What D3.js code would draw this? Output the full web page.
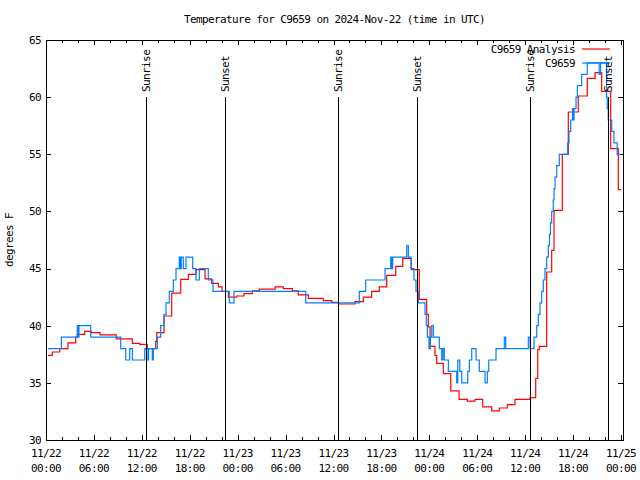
<!DOCTYPE html>
<html><head><meta charset="utf-8">
<script src="https://cdn.jsdelivr.net/npm/d3@7"></script>
<style>
body{margin:0;background:#fff}
svg{display:block}
text{font-family:"DejaVu Sans Mono",monospace;font-size:11px;letter-spacing:-0.6px;fill:#000}
</style>
</head><body>
<svg id="chart" width="640" height="480"></svg>
<script>
// ---- data (hours after 2024-11-22 00:00 UTC) ----
const baseTime = Date.UTC(2024, 10, 22, 0, 0);
const analysisHours = [0.25,0.79,1.72,2.75,3.72,3.92,4.85,5.67,6.76,8.80,10.81,11.73,12.68,13.74,13.86,14.78,15.74,16.87,17.82,18.78,19.91,20.75,21.58,22.04,22.83,23.88,24.79,25.83,26.71,28.68,29.71,30.84,31.59,32.85,34.72,35.78,36.60,38.69,39.73,40.78,41.74,42.66,43.79,44.67,45.74,46.74,47.67,47.87,48.09,48.71,48.92,49.75,50.68,51.72,52.76,53.72,54.68,55.81,56.76,57.77,58.73,60.61,61.32,61.57,61.77,62.70,63.32,63.61,64.65,65.40,66.65,67.78,68.75,69.58,70.71,71.66,72.0];
const analysisTemps = [37.4,37.7,38.0,38.5,39.0,39.25,39.5,39.4,39.2,38.85,38.45,38.37,38.0,38.6,39.4,40.85,42.85,44.05,44.5,44.9,44.1,43.7,43.4,43.0,42.5,42.6,42.8,43.05,43.2,43.4,43.25,43.05,42.7,42.4,42.2,42.05,41.9,42.1,42.5,43.0,43.4,44.4,45.2,45.9,44.9,42.3,41.0,39.9,38.2,37.4,36.7,35.8,34.3,33.55,33.4,33.55,32.9,32.55,32.8,33.1,33.55,33.7,35.4,37.9,38.2,44.7,46.6,50.1,55.0,58.7,60.1,61.65,62.15,60.5,55.5,51.9,51.9];
const stationHours = [0.25,1.92,3.92,4.07,4.13,5.60,9.35,9.98,10.48,10.81,12.36,12.65,12.84,13.31,13.44,13.94,14.36,14.78,15.03,15.44,15.94,16.28,16.69,16.82,16.94,17.19,17.53,18.37,18.78,19.20,20.32,20.91,22.95,23.54,32.52,39.23,40.03,42.45,43.16,43.29,43.41,45.17,45.37,45.71,46.08,46.33,46.62,47.46,47.62,47.75,47.96,48.12,48.30,48.50,49.25,49.55,49.71,49.88,50.38,51.43,51.56,51.81,52.06,52.81,53.01,53.31,53.85,54.26,54.98,55.26,55.44,56.35,57.39,57.56,60.39,60.61,61.11,61.44,61.64,61.86,62.07,62.27,62.48,62.70,62.90,63.05,63.17,63.32,63.52,63.61,63.74,63.95,64.27,65.33,65.49,65.70,65.93,66.05,66.12,66.37,66.53,67.08,67.78,69.27,69.45,70.20,70.28,70.40,70.83,71.11,71.52,72.0];
const stationTemps = [38,39,40,39,40,39,38,37,38,37,38,37,38,37,38,39,40,41,42,43,44,45,46,45,46,45,46,45,44,45,44,43,42,43,42,43,44,45,46,45,46,47,46,45,44,43,42,41,40,39,38,39,40,39,38,37,38,37,36,35,37,36,35,36,37,38,37,36,35,36,37,38,39,38,39,38,39,40,41,42,43,44,45,46,47,48,49,50,51,52,53,54,55,56,57,58,59,58,59,60,61,62,63,62,63,60,59,58,57,56,55,55];
const eventHours = [12.57, 22.45, 36.60, 46.49, 60.67, 70.41];
const eventLabels = ["Sunrise","Sunset","Sunrise","Sunset","Sunrise","Sunset"];
const yTickValues = [30,35,40,45,50,55,60,65];
const xMajorHours = [0,6,12,18,24,30,36,42,48,54,60,66,72];
const seriesNames = ["C9659 Analysis","C9659"];
const seriesColors = ["#ff0000","#0080ff"];

// ---- layout ----
const L = 46, R = 623, T = 40, B = 440;
const toDate = h => new Date(baseTime + h * 3600e3);
const svg = d3.select("#chart");
const x = d3.scaleUtc().domain([toDate(0), toDate(72.25)]).range([L, R]);
const y = d3.scaleLinear().domain([30, 65]).range([B, T]);

// title
svg.append("text").attr("x", (L + R) / 2).attr("y", 23).attr("text-anchor", "middle")
  .text("Temperature for C9659 on 2024-Nov-22 (time in UTC)");
// y label
svg.append("text").attr("transform", "translate(13,240) rotate(-90)").attr("text-anchor", "middle")
  .text("degrees F");

// ticks
const minorHours = d3.range(0, 73, 2);
function tickGroup(axisFn, vals, size, tr) {
  const a = svg.append("g").attr("transform", tr).call(axisFn.tickValues(vals).tickSize(size).tickFormat(""));
  a.select(".domain").remove();
  a.selectAll("line").attr("shape-rendering", "crispEdges");
  return a;
}
tickGroup(d3.axisBottom(x), minorHours.map(toDate), -3, `translate(0,${B})`);
tickGroup(d3.axisBottom(x), xMajorHours.map(toDate), -5, `translate(0,${B})`);
tickGroup(d3.axisTop(x), minorHours.map(toDate), -3, `translate(0,${T})`);
tickGroup(d3.axisTop(x), xMajorHours.map(toDate), -5, `translate(0,${T})`);
tickGroup(d3.axisLeft(y), yTickValues, -5, `translate(${L},0)`);
tickGroup(d3.axisRight(y), yTickValues, -5, `translate(${R},0)`);

// tick labels
const fmtD = d3.utcFormat("%m/%d"), fmtT = d3.utcFormat("%H:%M");
svg.append("g").selectAll("text").data(xMajorHours).join("text")
  .attr("x", h => x(toDate(h))).attr("y", 457).attr("text-anchor", "middle")
  .text(h => fmtD(toDate(h)));
svg.append("g").selectAll("text").data(xMajorHours).join("text")
  .attr("x", h => x(toDate(h))).attr("y", 472).attr("text-anchor", "middle")
  .text(h => fmtT(toDate(h)));
svg.append("g").selectAll("text").data(yTickValues).join("text")
  .attr("x", 41).attr("y", v => y(v)).attr("dy", "0.35em").attr("text-anchor", "end")
  .text(d => d);

// series
const line = d3.line().curve(d3.curveStepAfter).x(d => x(toDate(d[0]))).y(d => y(d[1]));
const series = [d3.zip(analysisHours, analysisTemps), d3.zip(stationHours, stationTemps)];
series.forEach((s, i) => {
  svg.append("path").datum(s).attr("d", line).attr("fill", "none")
    .attr("stroke", seriesColors[i]).attr("stroke-width", 1.2);
});

// sunrise / sunset
eventHours.forEach((h, i) => {
  const ex = x(toDate(h));
  svg.append("line").attr("x1", ex).attr("x2", ex).attr("y1", y(60)).attr("y2", y(30))
    .attr("stroke", "#000").attr("stroke-width", 1).attr("shape-rendering", "crispEdges");
  svg.append("text").attr("transform", `translate(${ex},92) rotate(-90)`)
    .attr("dominant-baseline", "central").text(eventLabels[i]);
});

// legend
seriesNames.forEach((n, i) => {
  const ly = 49 + i * 14;
  svg.append("text").attr("x", 575).attr("y", ly).attr("dy", "0.35em").attr("text-anchor", "end").text(n);
  svg.append("line").attr("x1", 582).attr("x2", 610).attr("y1", ly).attr("y2", ly)
    .attr("stroke", seriesColors[i]).attr("stroke-width", 1.2);
});

// frame
svg.append("rect").attr("x", L).attr("y", T).attr("width", R - L).attr("height", B - T)
  .attr("fill", "none").attr("stroke", "#000").attr("stroke-width", 1).attr("shape-rendering", "crispEdges");
</script>
</body></html>
